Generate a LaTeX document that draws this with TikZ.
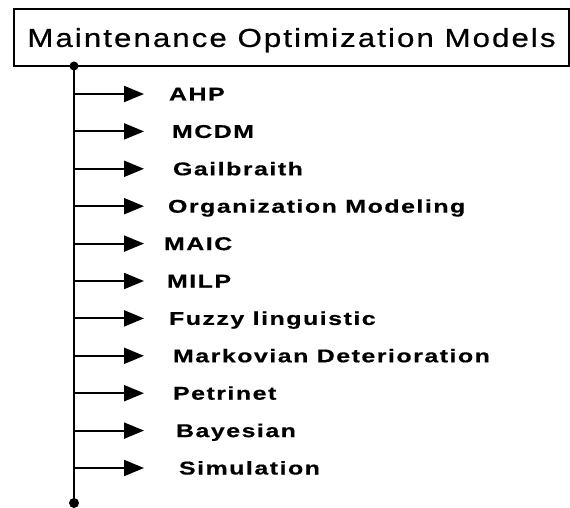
\documentclass[tikz,border=0pt]{standalone}
\usepackage{fontspec}
\setmainfont{Liberation Sans}
\newfontfamily\titlefont[FakeStretch=1.2,LetterSpace=8,FakeBold=0.6]{Liberation Sans}
\newfontfamily\itemfont[FakeStretch=1.35,LetterSpace=8,FakeBold=0.5]{Liberation Sans}
\usetikzlibrary{arrows.meta}

\begin{document}
\begin{tikzpicture}[x=1pt, y=-1pt, line width=2pt,
    branch/.style={-{Triangle[length=20pt,width=16pt]}},
    model/.style={anchor=base west, inner sep=0pt, font=\itemfont\bfseries\fontsize{18.5}{22}\selectfont}]
  \useasboundingbox (0,0) rectangle (570,508);
  % Define parameters
  \def\xtrunk{74} % x of the vertical trunk
  \def\xtip{144} % x where the arrow tips end
  \def\gap{37.4} % vertical distance between branches

  % Title box
  \node[draw, minimum width=555pt, minimum height=57pt, inner sep=0pt, text depth=0pt,
    font=\titlefont\fontsize{26}{30}\selectfont] (title) at (291.5,37.5)
    {Maintenance Optimization Models};

  % Vertical trunk with its two end dots
  \coordinate (top) at (\xtrunk,66);
  \coordinate (bot) at (\xtrunk,503);
  \draw (top) -- (bot);
  \fill (top) circle (4.5pt);
  \fill (bot) circle (5pt);

  % Branches and model names
  \foreach \lbl/\dx [count=\i from 0] in {AHP/168, MCDM/171, Gailbraith/172,
      Organization Modeling/167, MAIC/163, MILP/166, Fuzzy linguistic/168,
      Markovian Deterioration/172, Petrinet/172, Bayesian/175, Simulation/178}{
    \pgfmathsetmacro{\yy}{94+\gap*\i}
    \coordinate (b\i) at (\xtrunk,\yy);
    \coordinate (t\i) at (\xtip,\yy);
    \draw[branch] (b\i) -- (t\i);
    \node[model] (m\i) at (\dx,\yy+6.5) {\lbl};
  }
\end{tikzpicture}
\end{document}
